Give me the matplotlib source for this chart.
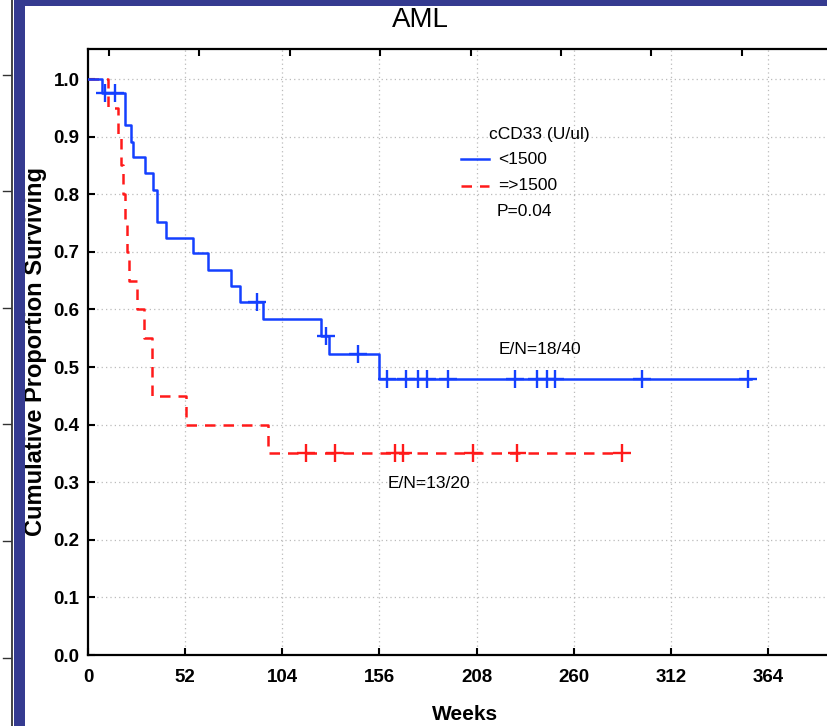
import numpy as np
import matplotlib
matplotlib.use("Agg")
import matplotlib.pyplot as plt
from matplotlib.lines import Line2D
from matplotlib.patches import Rectangle

# ---- data ----
title = "AML"
x_ticks = [0, 52, 104, 156, 208, 260, 312, 364]
y_ticks = [0.0, 0.1, 0.2, 0.3, 0.4, 0.5, 0.6, 0.7, 0.8, 0.9, 1.0]
top_ticks = [11.2, 59.4, 108.1, 156.3, 205.0, 253.2, 301.4, 350.1]

low_label = "<1500"
low_event_t = [7.3, 19.8, 23.0, 24.0, 30.5, 34.8, 36.9, 41.8, 56.2, 64.1, 76.6, 81.4,
               93.7, 124.6, 129.2, 155.8]
low_event_s = [0.976, 0.920, 0.891, 0.865, 0.837, 0.807, 0.752, 0.724, 0.698, 0.668,
               0.641, 0.613, 0.583, 0.554, 0.523, 0.480]
low_censor_t = [9.1, 14.5, 90.3, 127.4, 144.5, 159.9, 170.2, 176.7, 181.3, 192.7,
                228.6, 240.4, 245.7, 250.0, 296.4, 353.3]
low_end = 355.0

high_label = "=>1500"
high_event_t = [10.7, 15.8, 17.7, 18.7, 19.8, 20.9, 22.0, 26.0, 30.0, 34.1, 52.5, 96.4]
high_event_s = [0.95, 0.90, 0.85, 0.80, 0.75, 0.70, 0.65, 0.60, 0.55, 0.45, 0.40, 0.35]
high_censor_t = [116.5, 132.2, 164.3, 168.6, 206.1, 229.7, 285.7]
high_end = 285.7

legend_title = "cCD33 (U/ul)"
p_text = "P=0.04"
en_low = "E/N=18/40"
en_high = "E/N=13/20"

BLUE = "#1440ff"
RED = "#ff1a1a"
NAVY = "#353b90"

W, H = 827, 726
fig = plt.figure(figsize=(W / 100, H / 100), dpi=100)
fig.patch.set_facecolor("white")

def px(x, y):
    return x / W, 1 - y / H

# frame decorations (screenshot border)
fig.patches.append(Rectangle(px(14, 726), 11 / W, 726 / H, transform=fig.transFigure,
                             facecolor=NAVY, edgecolor="none", zorder=0))
fig.patches.append(Rectangle(px(14, 6), (W - 14) / W, 6 / H, transform=fig.transFigure,
                             facecolor=NAVY, edgecolor="none", zorder=0))
fig.lines.append(Line2D([11.8 / W, 11.8 / W], [0, 1], transform=fig.transFigure,
                        color="#222222", lw=1.2))
for yy in [75, 191, 308, 424, 541, 658]:
    fig.lines.append(Line2D([3 / W, 11 / W], [1 - yy / H, 1 - yy / H],
                            transform=fig.transFigure, color="#333333", lw=1.0))

tick_font = ["Liberation Sans Narrow", "Liberation Sans", "DejaVu Sans"]
text_font = ["Liberation Sans", "DejaVu Sans"]

ax = fig.add_axes([88 / W, (H - 655) / H, (W - 88) / W, (655 - 49.3) / H])
xmax = (W - 88) / 1.868
ax.set_xlim(0, xmax)
ax.set_ylim(0, 1.0516)

def km(event_t, event_s, end):
    t = [0.0] + list(event_t) + [end]
    s = [1.0] + list(event_s) + [event_s[-1]]
    return np.array(t), np.array(s)

def surv_at(t_arr, s_arr, times):
    idx = np.searchsorted(t_arr, np.asarray(times), side="right") - 1
    return s_arr[idx]

tl, sl = km(low_event_t, low_event_s, low_end)
th, sh = km(high_event_t, high_event_s, high_end)

ax.step(th, sh, where="post", color=RED, lw=1.8, dashes=(4.2, 3.2), zorder=3)
ax.step(tl, sl, where="post", color=BLUE, lw=1.8, zorder=4)
ax.plot(high_censor_t, surv_at(th, sh, high_censor_t), ls="none", marker="+",
        ms=13.5, mew=1.7, color=RED, zorder=5)
ax.plot(low_censor_t, surv_at(tl, sl, low_censor_t), ls="none", marker="+",
        ms=13.5, mew=1.7, color=BLUE, zorder=6)

# grid
for xv in x_ticks[1:]:
    ax.axvline(xv, color="#bbbbbb", lw=0.9, ls=(0, (1, 2.5)), zorder=1)
for yv in y_ticks[1:]:
    ax.axhline(yv, color="#bbbbbb", lw=0.9, ls=(0, (1, 2.5)), zorder=1)

ax.spines["right"].set_visible(False)
for s in ["left", "top", "bottom"]:
    ax.spines[s].set_linewidth(1.6)
ax.set_xticks(x_ticks)
ax.set_yticks(y_ticks)
ax.set_xticklabels([str(v) for v in x_ticks])
ax.set_yticklabels([f"{v:.1f}" for v in y_ticks])
ax.tick_params(direction="in", length=5, width=1.5, pad=6)
ax.tick_params(axis="x", pad=10)
for lab in ax.get_xticklabels() + ax.get_yticklabels():
    lab.set_fontfamily(tick_font)
    lab.set_fontweight("bold")
    lab.set_fontsize(13.5)

ax2 = ax.twiny()
ax2.set_xlim(ax.get_xlim())
ax2.set_xticks(top_ticks)
ax2.set_xticklabels([])
ax2.tick_params(direction="in", length=5, width=1.5)
for s in ax2.spines.values():
    s.set_visible(False)

ax.set_xlabel("Weeks", fontfamily=text_font, fontweight="bold", fontsize=15)
ax.xaxis.set_label_coords((465 - 88) / (W - 88), -(715 - 655) / (655 - 49.3))
ax.set_ylabel("Cumulative Proportion Surviving", fontfamily=text_font,
              fontweight="bold", fontsize=17)
ax.yaxis.set_label_coords(-(88 - 36) / (W - 88), (655 - 352) / (655 - 49.3))
ax.yaxis.label.set_va("center")
ax.xaxis.label.set_va("center")

fig.text(420 / W, 1 - 20 / H, title, ha="center", va="center", fontsize=20,
         fontfamily=text_font)

# legend block
fig.text(489 / W, 1 - 135 / H, legend_title, ha="left", va="center", fontsize=12.5,
         fontfamily=text_font)
fig.lines.append(Line2D([461 / W, 489 / W], [1 - 159 / H] * 2, transform=fig.transFigure,
                        color=BLUE, lw=1.8))
fig.lines.append(Line2D([461 / W, 489 / W], [1 - 186 / H] * 2, transform=fig.transFigure,
                        color=RED, lw=1.8, dashes=(4.2, 3.2)))
fig.text(498 / W, 1 - 159 / H, low_label, ha="left", va="center", fontsize=12.5,
         fontfamily=text_font)
fig.text(498 / W, 1 - 186 / H, high_label, ha="left", va="center", fontsize=12.5,
         fontfamily=text_font)
fig.text(497 / W, 1 - 211 / H, p_text, ha="left", va="center", fontsize=12.5,
         fontfamily=text_font)

fig.text(499 / W, 1 - 350 / H, en_low, ha="left", va="center", fontsize=12.5,
         fontfamily=text_font)
fig.text(388 / W, 1 - 483 / H, en_high, ha="left", va="center", fontsize=12.5,
         fontfamily=text_font)

fig.savefig("out.png", dpi=100)
